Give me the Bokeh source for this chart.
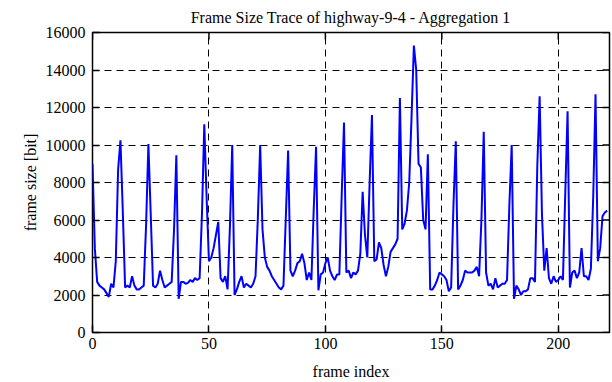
from bokeh.plotting import figure
from bokeh.models import Range1d, FixedTicker
from bokeh.embed import file_html
from bokeh.resources import INLINE

frame_size = [
    9000, 4500, 2700, 2500, 2400, 2300, 2100, 1900, 2600, 2400,
    3800, 8700, 10250, 6500, 2400, 2500, 2400, 3000, 2500, 2300,
    2300, 2400, 2500, 5700, 10050, 6300, 2500, 2400, 2600, 3300,
    2800, 2400, 2500, 2600, 2700, 5450, 9450, 1800, 2700, 2700,
    2600, 2650, 2800, 2700, 2900, 2800, 2900, 6300, 11100, 7200,
    3800, 4000, 4500, 5200, 5900, 2900, 2700, 3000, 2300, 5600,
    10000, 2000, 2300, 2700, 3000, 2400, 2600, 2500, 2400, 2600,
    3000, 6100, 10000, 5500, 4000, 3500, 3300, 3000, 2800, 2600,
    2400, 2300, 2500, 6100, 9700, 3300, 3000, 3300, 3700, 3800,
    4200, 3700, 2800, 3200, 2800, 6600, 9900, 2250, 3100, 3200,
    3700, 4000, 3300, 3000, 2800, 3100, 3100, 7300, 11200, 3200,
    3300, 2900, 3200, 3100, 3300, 4200, 7500, 5200, 4000, 8000,
    11600, 3800, 3900, 4800, 4500, 3600, 3000, 3500, 4300, 4500,
    4700, 5000, 12500, 5500, 5800, 6500, 8000, 11500, 15300, 14000,
    9000, 8800, 6000, 5500, 9500, 2300, 2300, 2500, 2800, 3200,
    3100, 3000, 2800, 2200, 2400, 6800, 10200, 2300, 2500, 2800,
    3300, 3200, 3200, 3200, 3300, 3500, 3000, 6000, 10700, 3200,
    2500, 2600, 2300, 2900, 2400, 2500, 2600, 2600, 2800, 6800,
    10000, 1800, 2500, 2300, 2000, 2200, 2200, 2300, 2900, 2900,
    2700, 8900, 12600, 6300, 3300, 4500, 2900, 2600, 3000, 2700,
    2800, 3000, 2800, 7400, 11800, 2400, 3200, 3300, 2900, 3200,
    4500, 3000, 3000, 2800, 3400, 7200, 12700, 3800, 4500, 6200,
    6400, 6500,
]
frame_index = list(range(len(frame_size)))

x_ticks = [0, 50, 100, 150, 200]
y_ticks = [0, 2000, 4000, 6000, 8000, 10000, 12000, 14000, 16000]

FONT = "Liberation Serif"
X_END = 222
Y_END = 16000
W, H = 612, 382
LEFT, RIGHT, TOP, BOTTOM = 92, 3, 32, 50
TICK_PX = 7

p = figure(width=W, height=H, output_backend="svg", toolbar_location=None,
           x_range=Range1d(0, X_END), y_range=Range1d(0, Y_END),
           title="Frame Size Trace of highway-9-4 - Aggregation 1",
           min_border_left=LEFT, min_border_right=RIGHT, min_border_top=TOP,
           min_border_bottom=BOTTOM)

p.line(frame_index, frame_size, line_color="#0000ff", line_width=2)

# mirrored inward ticks on the right and top edges
fw = W - LEFT - RIGHT
fh = H - TOP - BOTTOM
dx = TICK_PX * X_END / fw
dy = TICK_PX * Y_END / fh
p.segment(x0=[X_END] * len(y_ticks), y0=y_ticks,
          x1=[X_END - dx] * len(y_ticks), y1=y_ticks,
          line_color="black", line_width=1.5)
p.segment(x0=x_ticks, y0=[Y_END] * len(x_ticks),
          x1=x_ticks, y1=[Y_END - dy] * len(x_ticks),
          line_color="black", line_width=1.5)

p.title.text_font = FONT
p.title.text_font_size = "16px"
p.title.text_font_style = "normal"
p.title.text_color = "black"
p.title.align = "center"
p.title.offset = 0
p.title.standoff = 13

p.outline_line_color = "black"
p.outline_line_width = 1.5
p.outline_line_alpha = 1

p.xaxis.ticker = FixedTicker(ticks=x_ticks)
p.yaxis.ticker = FixedTicker(ticks=y_ticks)
p.xaxis.axis_label = "frame index"
p.yaxis.axis_label = "frame size [bit]"

for ax in p.xaxis + p.yaxis:
    ax.axis_line_color = None
    ax.major_tick_in = TICK_PX
    ax.major_tick_out = 0
    ax.major_tick_line_color = "black"
    ax.major_tick_line_width = 1.5
    ax.minor_tick_line_color = None
    ax.major_label_text_font = FONT
    ax.major_label_text_font_size = "16px"
    ax.major_label_text_color = "black"
    ax.axis_label_text_font = FONT
    ax.axis_label_text_font_size = "16px"
    ax.axis_label_text_font_style = "normal"
    ax.axis_label_text_color = "black"

p.xaxis.major_label_standoff = 5
p.xaxis.axis_label_standoff = 11
p.yaxis.major_label_standoff = 7
p.yaxis.axis_label_standoff = 4

p.xgrid.grid_line_color = "black"
p.ygrid.grid_line_color = "black"
p.xgrid.grid_line_dash = "7 5"
p.ygrid.grid_line_dash = "7 5"
p.xgrid.grid_line_width = 1
p.ygrid.grid_line_width = 1

open("out.html", "w").write(file_html(p, INLINE))
